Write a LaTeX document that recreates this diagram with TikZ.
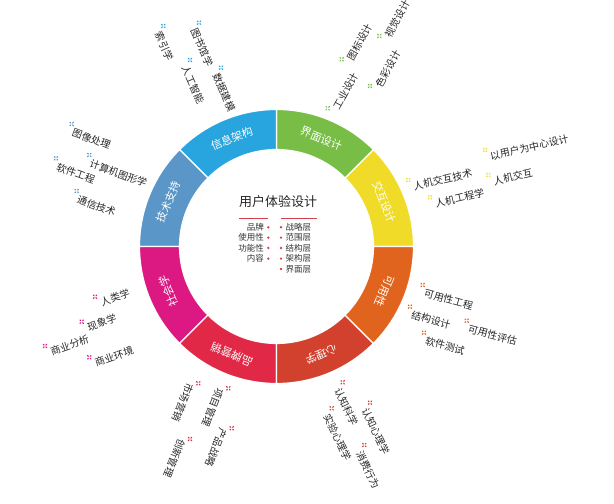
\documentclass[tikz,border=0pt]{standalone}
\usepackage{fontspec}
\newfontfamily\cjk{Noto Sans CJK SC}

\definecolor{jiaohu}{HTML}{F0DC28}
\definecolor{jiemian}{HTML}{78BE46}
\definecolor{xinxi}{HTML}{28A5DE}
\definecolor{jishu}{HTML}{5A96C8}
\definecolor{shehui}{HTML}{DC1982}
\definecolor{pinpai}{HTML}{E12846}
\definecolor{xinli}{HTML}{D2412D}
\definecolor{keyong}{HTML}{E1641E}
\definecolor{hub}{HTML}{D2404E}

\tikzset{
  seg/.style={draw=white, line width=1.2pt},
  ring text/.style={text=white, font=\cjk\fontsize{11}{13}\selectfont, inner sep=0pt},
  twig text/.style={text=black!85, font=\cjk\fontsize{10}{12}\selectfont, inner sep=0pt, transform shape},
  hub text/.style={text=black!80, font=\cjk\fontsize{8.5}{10}\selectfont, inner sep=0pt},
  hub dot/.style={circle, fill=hub, inner sep=0pt, minimum size=2.6pt},
  petal/.pic={
    \fill (45:1.9pt) ellipse[x radius=1.2pt, y radius=0.8pt, rotate=45];
    \fill (135:1.9pt) ellipse[x radius=1.2pt, y radius=0.8pt, rotate=135];
    \fill (225:1.9pt) ellipse[x radius=1.2pt, y radius=0.8pt, rotate=225];
    \fill (315:1.9pt) ellipse[x radius=1.2pt, y radius=0.8pt, rotate=315];
  }
}

% name, marker position, angle, colour, text
\newcommand\twig[5]{%
  \begin{scope}[shift={(#2)}, rotate=#3]
    \pic[color=#4] at (0,0) {petal};
    \node[twig text, anchor=north west] (#1) at (3.5pt,-2.5pt) {#5};
  \end{scope}}

\begin{document}
\begin{tikzpicture}[x=1pt, y=1pt]
  \useasboundingbox (0,0) rectangle (614,504);

  % ring
  \begin{scope}[shift={(276.5,257.5)}]
    \draw[seg, fill=jiaohu]  (0:137)   arc[start angle=0,   end angle=45,  radius=137] -- (45:97)  arc[start angle=45,  end angle=0,   radius=97] -- cycle;
    \draw[seg, fill=jiemian] (45:137)  arc[start angle=45,  end angle=90,  radius=137] -- (90:97)  arc[start angle=90,  end angle=45,  radius=97] -- cycle;
    \draw[seg, fill=xinxi]   (90:137)  arc[start angle=90,  end angle=135, radius=137] -- (135:97) arc[start angle=135, end angle=90,  radius=97] -- cycle;
    \draw[seg, fill=jishu]   (135:137) arc[start angle=135, end angle=180, radius=137] -- (180:97) arc[start angle=180, end angle=135, radius=97] -- cycle;
    \draw[seg, fill=shehui]  (180:137) arc[start angle=180, end angle=225, radius=137] -- (225:97) arc[start angle=225, end angle=180, radius=97] -- cycle;
    \draw[seg, fill=pinpai]  (225:137) arc[start angle=225, end angle=270, radius=137] -- (270:97) arc[start angle=270, end angle=225, radius=97] -- cycle;
    \draw[seg, fill=xinli]   (270:137) arc[start angle=270, end angle=315, radius=137] -- (315:97) arc[start angle=315, end angle=270, radius=97] -- cycle;
    \draw[seg, fill=keyong]  (315:137) arc[start angle=315, end angle=360, radius=137] -- (360:97) arc[start angle=360, end angle=315, radius=97] -- cycle;

    \node[ring text, rotate=-67.5] (jiaohu)  at (22.5:117)  {交互设计};
    \node[ring text, rotate=-22.5] (jiemian) at (67.5:117)  {界面设计};
    \node[ring text, rotate=22.5]  (xinxi)   at (112.5:117) {信息架构};
    \node[ring text, rotate=67.5]  (jishu)   at (157.5:117) {技术支持};
    \node[ring text, rotate=112.5] (shehui)  at (202.5:117) {社会学};
    \node[ring text, rotate=157.5] (pinpai)  at (247.5:117) {品牌营销};
    \node[ring text, rotate=202.5] (xinli)   at (292.5:117) {心理学};
    \node[ring text, rotate=247.5] (keyong)  at (337.5:117) {可用性};
  \end{scope}

  % centre
  \node[text=black!85, font=\cjk\fontsize{13}{15}\selectfont, inner sep=0pt] (title) at (278,302) {用户体验设计};
  \coordinate (l1) at (239,286);
  \coordinate (l2) at (268,286);
  \coordinate (r1) at (281,286);
  \coordinate (r2) at (317,286);
  \draw[hub, line width=0.8pt] (l1) -- (l2);
  \draw[hub, line width=0.8pt] (r1) -- (r2);

  \node[hub text, anchor=east] (brand)  at (264,276.7) {品牌};
  \node[hub text, anchor=east] (usable) at (264,266.3) {使用性};
  \node[hub text, anchor=east] (func)   at (264,256)   {功能性};
  \node[hub text, anchor=east] (content) at (264,245.3) {内容};
  \node[hub dot] (bd) at (268.3,276.7) {};
  \node[hub dot] (ud) at (268.3,266.3) {};
  \node[hub dot] (fd) at (268.3,256)   {};
  \node[hub dot] (cd) at (268.3,245.3) {};

  \node[hub dot] (sd) at (281,276.7) {};
  \node[hub dot] (gd) at (281,266.3) {};
  \node[hub dot] (td) at (281,256)   {};
  \node[hub dot] (ad) at (281,245.3) {};
  \node[hub dot] (md) at (281,235)   {};
  \node[hub text, anchor=west] (strategy)  at (285.5,276.7) {战略层};
  \node[hub text, anchor=west] (scope)     at (285.5,266.3) {范围层};
  \node[hub text, anchor=west] (structure) at (285.5,256)   {结构层};
  \node[hub text, anchor=west] (frame)     at (285.5,245.3) {架构层};
  \node[hub text, anchor=west] (surface)   at (285.5,235)   {界面层};

  % branches
  \twig{suoyin}{163.3,478}{-66}{xinxi}{索引学};
  \twig{tushu}{199,481.3}{-66}{xinxi}{图书馆学};
  \twig{rengong}{190,444}{-66}{xinxi}{人工智能};
  \twig{shuju}{221,436.3}{-66}{xinxi}{数据建模};

  \twig{gongye}{327.7,395.7}{61}{jiemian}{工业设计};
  \twig{tubiao}{341.7,444.7}{61}{jiemian}{图标设计};
  \twig{shijue}{379.3,468}{61}{jiemian}{视觉设计};
  \twig{secai}{370,418}{61}{jiemian}{色彩设计};

  \twig{zhongxin}{485,354}{13}{jiaohu}{以用户为中心设计};
  \twig{jiaohujs}{408.3,324}{13}{jiaohu}{人机交互技术};
  \twig{gongcheng}{430,306.7}{13}{jiaohu}{人机工程学};
  \twig{renji}{488.3,329}{13}{jiaohu}{人机交互};

  \twig{kygc}{422.7,219}{-15}{keyong}{可用性工程};
  \twig{jiegou}{410,197.3}{-15}{keyong}{结构设计};
  \twig{kypg}{466.7,183.3}{-15}{keyong}{可用性评估};
  \twig{ceshi}{424,171.3}{-15}{keyong}{软件测试};

  \twig{renzhi}{342.7,121.7}{-64.5}{xinli}{认知科学};
  \twig{shiyan}{331.7,95.7}{-64.5}{xinli}{实验心理学};
  \twig{rzxl}{370,101.3}{-64.5}{xinli}{认知心理学};
  \twig{xiaofei}{364.3,59}{-64.5}{xinli}{消费行为};

  \twig{shichang}{198.3,120.7}{248}{pinpai}{市场营销};
  \twig{xiangmu}{228.3,115.7}{248}{pinpai}{项目管理};
  \twig{chanpin}{231.7,75.7}{248}{pinpai}{产品战略};
  \twig{chuangxin}{190,65}{248}{pinpai}{创新管理};

  \twig{renlei}{95,207.3}{19}{shehui}{人类学};
  \twig{xianxiang}{81.7,182.3}{19}{shehui}{现象学};
  \twig{fenxi}{45,158}{19}{shehui}{商业分析};
  \twig{huanjing}{89.3,146.7}{19}{shehui}{商业环境};

  \twig{tuxiang}{71.7,380}{-20}{jishu}{图像处理};
  \twig{jisuanji}{89.3,349}{-20}{jishu}{计算机图形学};
  \twig{ruanjian}{56,345.7}{-20}{jishu}{软件工程};
  \twig{tongxin}{76.7,313}{-20}{jishu}{通信技术};
\end{tikzpicture}
\end{document}
